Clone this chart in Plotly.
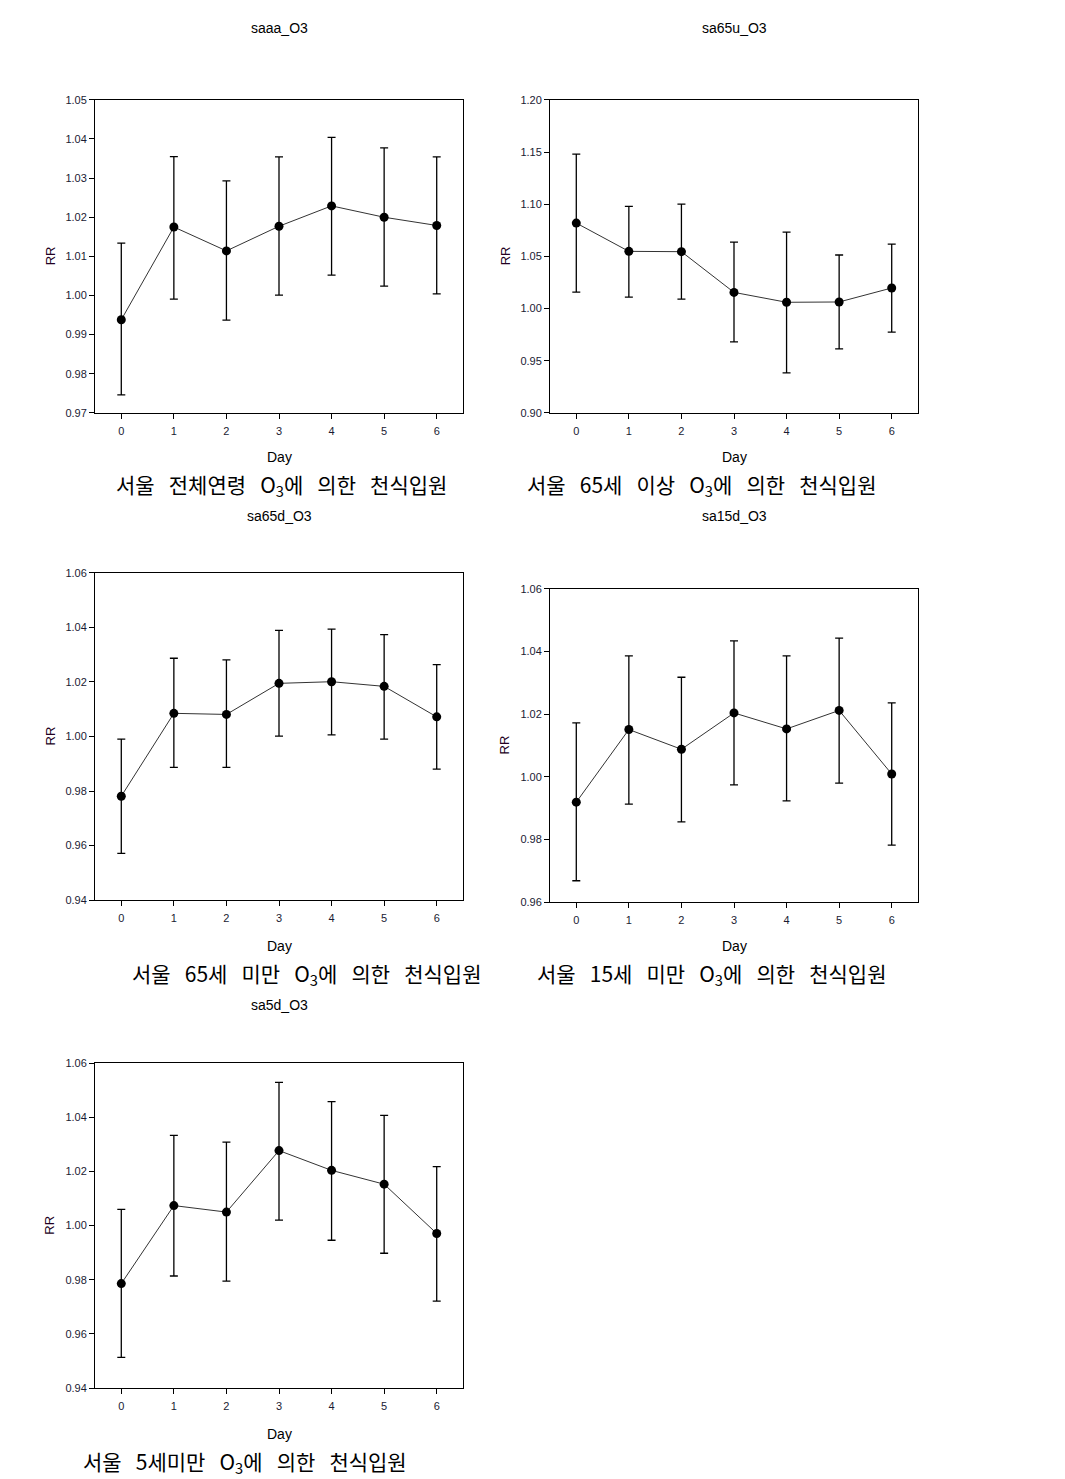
import plotly.graph_objects as go

W, H = 1065, 1479

days = [0, 1, 2, 3, 4, 5, 6]

# saaa_O3
rr_saaa = [0.9938, 1.0175, 1.0114, 1.0177, 1.0229, 1.0200, 1.0179]
up_saaa = [1.0134, 1.0355, 1.0293, 1.0354, 1.0404, 1.0377, 1.0354]
lo_saaa = [0.9746, 0.9991, 0.9937, 1.0001, 1.0052, 1.0024, 1.0004]

# sa65u_O3
rr_sa65u = [1.0819, 1.0548, 1.0545, 1.0155, 1.0060, 1.0063, 1.0197]
up_sa65u = [1.1480, 1.0979, 1.1001, 1.0637, 1.0733, 1.0513, 1.0618]
lo_sa65u = [1.0158, 1.0110, 1.0091, 0.9680, 0.9383, 0.9613, 0.9775]

# sa65d_O3
rr_sa65d = [0.9781, 1.0085, 1.0081, 1.0195, 1.0201, 1.0184, 1.0072]
up_sa65d = [0.9990, 1.0287, 1.0281, 1.0389, 1.0394, 1.0374, 1.0264]
lo_sa65d = [0.9571, 0.9887, 0.9887, 1.0001, 1.0006, 0.9990, 0.9880]

# sa15d_O3
rr_sa15d = [0.9919, 1.0151, 1.0088, 1.0204, 1.0153, 1.0212, 1.0009]
up_sa15d = [1.0172, 1.0386, 1.0318, 1.0434, 1.0386, 1.0443, 1.0236]
lo_sa15d = [0.9668, 0.9913, 0.9856, 0.9974, 0.9923, 0.9980, 0.9782]

# sa5d_O3
rr_sa5d = [0.9786, 1.0074, 1.0050, 1.0277, 1.0204, 1.0153, 0.9971]
up_sa5d = [1.0060, 1.0333, 1.0308, 1.0529, 1.0458, 1.0407, 1.0218]
lo_sa5d = [0.9514, 0.9814, 0.9795, 1.0020, 0.9946, 0.9898, 0.9721]

titles = ["saaa_O3", "sa65u_O3", "sa65d_O3", "sa15d_O3", "sa5d_O3"]
SP = "\u00a0\u00a0 "
captions = [
    f"서울{SP}전체연령{SP}O<sub>3</sub>에{SP}의한{SP}천식입원",
    f"서울{SP}65세{SP}이상{SP}O<sub>3</sub>에{SP}의한{SP}천식입원",
    f"서울{SP}65세{SP}미만{SP}O<sub>3</sub>에{SP}의한{SP}천식입원",
    f"서울{SP}15세{SP}미만{SP}O<sub>3</sub>에{SP}의한{SP}천식입원",
    f"서울{SP}5세미만{SP}O<sub>3</sub>에{SP}의한{SP}천식입원",
]
y_ranges = [(0.97, 1.05, 0.01), (0.90, 1.20, 0.05), (0.94, 1.06, 0.02),
            (0.96, 1.06, 0.02), (0.94, 1.06, 0.02)]

series = [
    (rr_saaa, up_saaa, lo_saaa),
    (rr_sa65u, up_sa65u, lo_sa65u),
    (rr_sa65d, up_sa65d, lo_sa65d),
    (rr_sa15d, up_sa15d, lo_sa15d),
    (rr_sa5d, up_sa5d, lo_sa5d),
]

# plot frames in pixels: (x0, x1, y0_top, y1_bottom)
frames = [(95, 463, 100, 413), (550, 918, 100, 413), (95, 463, 573, 900),
          (550, 918, 589, 902), (95, 463, 1063, 1388)]
title_y = [28, 28, 516, 516, 1005]
day_y = [457, 457, 946, 946, 1434]
cap_pos = [(281, 485), (701, 485), (306, 974), (711, 974), (245, 1462)]

VPAD = 6.2


def fx(px):
    return px / W


def fy(py):
    return 1 - (py - VPAD) / (H - 2 * VPAD)


fig = go.Figure()
annotations = []
tickfont = dict(family="Liberation Sans Narrow, Liberation Sans, Arial", size=11, color="#1a1a33")


def ann(text, px, py, font, angle=0):
    return dict(text=text, x=fx(px), y=fy(py), xref="paper", yref="paper",
                xanchor="center", yanchor="middle", showarrow=False,
                textangle=angle, font=font)


for i, ((rr, up, lo), (x0, x1, yt, yb)) in enumerate(zip(series, frames)):
    n = i + 1
    xa = "x" if n == 1 else f"x{n}"
    ya = "y" if n == 1 else f"y{n}"
    plus = [u - r for u, r in zip(up, rr)]
    minus = [r - l for r, l in zip(rr, lo)]
    fig.add_trace(go.Scatter(
        x=days, y=rr, xaxis=xa, yaxis=ya, mode="lines+markers",
        line=dict(color="#333333", width=1),
        marker=dict(color="black", size=9),
        error_y=dict(type="data", array=plus, arrayminus=minus, symmetric=False,
                     color="black", thickness=1.3, width=4),
        showlegend=False, cliponaxis=False,
    ))
    lo_r, hi_r, dt = y_ranges[i]
    axis_common = dict(showline=True, linecolor="black", linewidth=1, mirror=True,
                       ticks="outside", ticklen=5, tickcolor="black", showgrid=False,
                       zeroline=False, tickfont=tickfont)
    xkey = "xaxis" if n == 1 else f"xaxis{n}"
    ykey = "yaxis" if n == 1 else f"yaxis{n}"
    fig.update_layout(**{
        xkey: dict(domain=[fx(x0), fx(x1)], anchor=ya, range=[-0.5, 6.5],
                   tickvals=days, ticktext=[str(d) for d in days],
                   ticklabelstandoff=3, **axis_common),
        ykey: dict(domain=[fy(yb), fy(yt)], anchor=xa, range=[lo_r, hi_r],
                   dtick=dt, tick0=lo_r, tickformat=".2f", **axis_common),
    })
    cx = (x0 + x1) / 2
    annotations.append(ann(titles[i], cx, title_y[i],
                           dict(family="Liberation Sans, Arial", size=14, color="black")))
    annotations.append(ann("Day", cx, day_y[i],
                           dict(family="Liberation Sans Narrow, Liberation Sans, Arial", size=14, color="black")))
    annotations.append(ann("RR", x0 - 45, (yt + yb) / 2,
                           dict(family="Liberation Sans, Arial", size=13, color="#220022"), angle=-90))
    annotations.append(ann(captions[i], cap_pos[i][0], cap_pos[i][1],
                           dict(family="Noto Sans CJK KR", size=21, color="black")))

fig.update_layout(width=W, height=H, margin=dict(l=0, r=0, t=0, b=0),
                  plot_bgcolor="white", paper_bgcolor="white",
                  annotations=annotations)

fig.write_html("out.html")
